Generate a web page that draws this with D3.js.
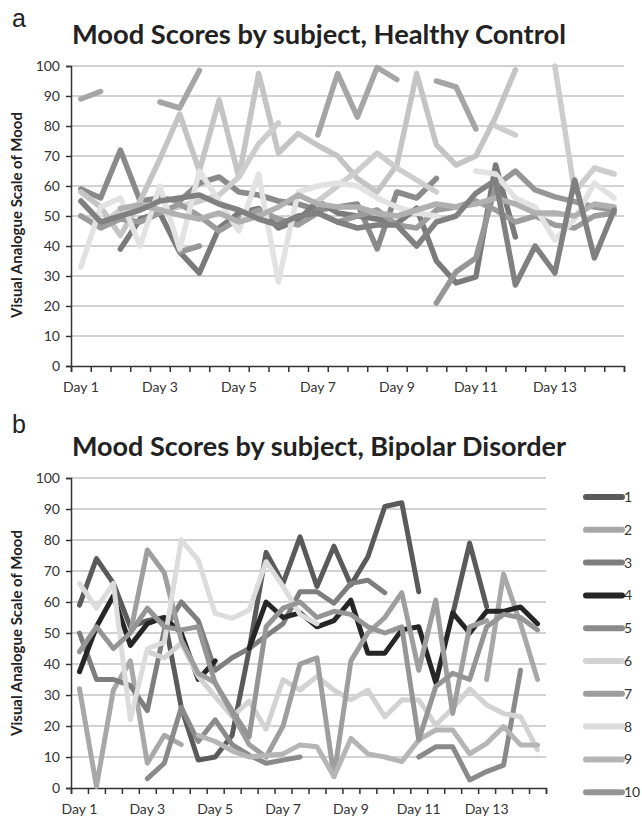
<!DOCTYPE html>
<html>
<head>
<meta charset="utf-8">
<script src="https://cdn.jsdelivr.net/npm/d3@7"></script>
<style>
  body { margin: 0; background: #fff; }
  svg { display: block; font-family: Lato, "Open Sans", sans-serif; }
</style>
</head>
<body>
<div id="root"></div>
<script>
// 28 sessions (two per day), labelled every other day
const sessions = d3.range(28);
const xTickLabels = ['Day 1', 'Day 3', 'Day 5', 'Day 7', 'Day 9', 'Day 11', 'Day 13'];
const yTicks = d3.range(0, 101, 10);
const subjects = ['1', '2', '3', '4', '5', '6', '7', '8', '9', '10'];
const subjectColors = ['#5a5a5a', '#a8a8a8', '#7e7e7e', '#262626', '#8a8a8a', '#d2d2d2', '#9e9e9e', '#dcdcdc', '#b5b5b5', '#959595'];

const _ = null;

// panel a - healthy control
const hc1 = [89, 91.5, _, _, 88, 86, 98.5, _, _, _, _, _, 77, 97.5, 83, 99.5, 95.5, _, 95, 93, 79, _, _, _, _, _, _, _];
const hc2 = [59, 56, 72, 55, 56, 55, 61, 63, 58, 57, 55, 54, 52, 53, 54, 39, 58, 56, 62.5, _, _, _, _, _, _, _, _, _];
const hc3 = [58, 53, 43.5, 55, 69, 84, 65, 88.7, 63, 97.5, 71, 77.5, 73.5, 70, 62.5, 58, 67, 97.5, 73.7, 67, 70, 83, 98.7, _, _, _, _, _];
const hc4 = [_, _, 39, 49, 51, 38, 31, 46, 51, 52.5, 46, 48.6, 55, 51, 50, 49, 47.5, 52.6, 35, 27.7, 29.7, 67, 43, _, _, _, _, _];
const hc5 = [_, _, _, _, _, 38, 40, _, _, _, _, _, _, _, _, _, _, _, 21, 31.4, 36, 60, 65, 58.7, 56.4, 54.8, 53, 52];
const hc6 = [50, 47, 52, 54, 52, 53, 55, 57, 63, 74, 81, _, 55, 60, 65, 71, 66, 62, 58, _, _, 80, 77, _, 100, 58, 66, 64];
const hc7 = [50, 46, 49, 48, 51, 54, 50, 45, 49, 52, 49, 47, 51, 48, 50, 52, 47, 46, 52, 53, 55, 52, 48, 50, 47, 46, 50, 51];
const hc8 = [33, 53, 56, 40, 60, 39, 65, 55, 45, 64, 28, 58, 60, 61, 60, 56, 53, 51, 50, _, 65, 64, 56, 53, 42, 49, 61, 56];
const hc9 = [_, _, 52.5, 53.7, 52, 50.3, 49, 51, 48, 50, 53, 57, 54, 53, 53, 51, 50, 52, 54, 53, 54, 56, 54, 51, 51, 50, 54, 53];
const hc10 = [55, 48, 50, 52, 55, 56, 57, 54, 52, 49, 47, 50, 51, 48, 46, 47, 47, 40, 48, 50, 57.6, 62, 27, 40, 31, 62, 36, 52];

// panel b - bipolar disorder
const bd1 = [59, 74, 66, 52, 54, 55, 26, 9, 10, 17, 44.5, 76, 66, 81, 65, 78, 65.5, 74.6, 90.8, 92, 63.3, _, 56, 79, 58.5, _, _, _];
const bd2 = [32, 0.5, 31.6, 41, 8, 17, 14, _, _, _, _, _, _, _, _, _, _, _, _, _, _, _, _, _, 35, 69, 53, 35];
const bd3 = [50, 35, 35, 33, 25, 51, 60, 54, 38, 42, 45, 49, 53, 63.3, 63.3, 59.6, 66, 67, 63, _, _, _, _, _, _, _, _, _];
const bd4 = [37.5, 52, 62, 46, 53, 55, 50, 35, 41, _, 45, 60, 55, 56.5, 52, 54, 60.6, 43.5, 43.5, 51, 52, 34, 56.5, 50, 57, 57, 58.4, 53];
const bd5 = [_, _, _, _, 3, 8, 26, 15, 22, 14, 10.6, 8, 9, 10, _, _, _, _, _, _, 10, 13.3, 13.3, 2.6, 5.3, 7.4, 38, _];
const bd6 = [_, _, _, _, 44, 42, 46.7, 36, 29.5, 23, 28, 19, 35, 31.6, 36, 31.6, 28.4, 31.6, 23, 28.4, 28.4, 20.3, 25.7, 32, 26.8, 24, 23, 12.3];
const bd7 = [_, _, _, 50, 76.8, 69.4, 47.7, 37, 34, 24, 14, 10, 20, 40, 42, 3.7, 41, 50, 55, 63, 38, 60.6, 24, 52, 54, _, _, _];
const bd8 = [66, 58, 66, 22, 45, 47, 80, 73.5, 56.3, 54.7, 57.4, 73, 65, 56, 53, _, _, _, _, _, _, _, _, _, _, _, _, _];
const bd9 = [_, _, _, _, _, _, _, 17, 15, 12, 10, 10.5, 11, 13.9, 13.3, 3.7, 16, 11, 10, 8.5, 15.5, 18.7, 18.7, 11, 14.4, 19.8, 13.9, 13.9];
const bd10 = [44, 52, 45, 50, 58, 52, 51, 52, 33.8, 25, 16.5, 52, 58, 60, 55, 57, 56, 52, 50, 52, 15.5, 32.7, 37, 35, 52, 56, 55, 51];

const healthy = [hc1, hc2, hc3, hc4, hc5, hc6, hc7, hc8, hc9, hc10];
const bipolar = [bd1, bd2, bd3, bd4, bd5, bd6, bd7, bd8, bd9, bd10];
const healthyColors = ['#a5a5a5', '#8a8a8a', '#c4c4c4', '#7a7a7a', '#969696', '#cdcdcd', '#9c9c9c', '#e2e2e2', '#b0b0b0', '#808080'];

const width = 642, height = 825;

const svg = d3.select('#root').append('svg')
  .attr('width', width)
  .attr('height', height)
  .attr('viewBox', [0, 0, width, height]);

// fit a text element to a target width by scaling its font size
function fitText(sel, targetWidth) {
  const node = sel.node();
  const size = parseFloat(sel.attr('font-size'));
  const w = node.getComputedTextLength();
  sel.attr('font-size', (size * targetWidth / w).toFixed(2));
}

function drawPanel(opts) {
  const { letter, letterY, title, titleY, top, bottom, left, right, series, colors, lineWidth, yTitleY } = opts;

  const x = d3.scaleBand().domain(sessions).range([left, right]);
  const xTicks = d3.scaleLinear().domain([0, sessions.length]).range([left, right]);
  const y = d3.scaleLinear().domain([0, 100]).range([bottom, top]);

  svg.append('text')
    .attr('x', 12).attr('y', letterY)
    .attr('font-size', 25)
    .attr('font-family', 'Liberation Sans, Arial, sans-serif')
    .attr('fill', '#222')
    .text(letter);

  const t = svg.append('text')
    .attr('x', 72).attr('y', titleY)
    .attr('font-size', 23)
    .attr('font-weight', 'bold')
    .attr('fill', '#222')
    .text(title);
  fitText(t, 494);

  // gridlines
  svg.append('g')
    .selectAll('line')
    .data(yTicks.filter(d => d > 0))
    .join('line')
    .attr('x1', left).attr('x2', right)
    .attr('y1', d => y(d)).attr('y2', d => y(d))
    .attr('stroke', '#a6a6a6')
    .attr('stroke-width', 1.2);

  // y axis
  const yAxis = svg.append('g')
    .attr('transform', `translate(${left},0)`)
    .call(d3.axisLeft(y).tickValues(yTicks).tickSize(5).tickPadding(6));
  yAxis.select('.domain').attr('stroke', '#333').attr('stroke-width', 1.5);
  yAxis.selectAll('.tick line').attr('stroke', '#333').attr('stroke-width', 1.5);
  yAxis.selectAll('.tick text')
    .attr('font-size', 14)
    .attr('font-family', 'Lato, sans-serif')
    .attr('fill', '#333');

  // x axis: tick marks on session boundaries, labels every fourth session
  const xAxis = svg.append('g')
    .attr('transform', `translate(0,${bottom})`)
    .call(d3.axisBottom(xTicks).tickValues(d3.range(sessions.length + 1)).tickSize(6).tickFormat(''));
  xAxis.select('.domain').attr('stroke', '#333').attr('stroke-width', 1.5);
  xAxis.selectAll('.tick line').attr('stroke', '#333').attr('stroke-width', 1.5);

  svg.append('g')
    .selectAll('text')
    .data(xTickLabels)
    .join('text')
    .attr('x', (d, i) => x(sessions[i * 4]) + x.bandwidth() / 2)
    .attr('y', bottom + 26)
    .attr('text-anchor', 'middle')
    .attr('font-size', 14)
    .attr('fill', '#333')
    .text(d => d);

  // y axis title
  const yt = svg.append('text')
    .attr('transform', `translate(22,${yTitleY}) rotate(-90)`)
    .attr('text-anchor', 'middle')
    .attr('font-size', 12)
    .attr('font-weight', 'bold')
    .attr('fill', '#222')
    .text('Visual Analogue Scale of Mood');
  fitText(yt, 206);

  const line = d3.line()
    .defined(d => d != null)
    .x((d, i) => x(sessions[i]) + x.bandwidth() / 2)
    .y(d => y(d));

  svg.append('g')
    .selectAll('path')
    .data(series)
    .join('path')
    .attr('d', line)
    .attr('fill', 'none')
    .attr('stroke', (d, i) => colors[i])
    .attr('stroke-width', lineWidth)
    .attr('stroke-linejoin', 'round')
    .attr('stroke-linecap', 'round');
}

drawPanel({
  letter: 'a', letterY: 27, title: 'Mood Scores by subject, Healthy Control', titleY: 44,
  top: 66, bottom: 366, left: 71, right: 624,
  series: healthy, colors: healthyColors, lineWidth: 5.5, yTitleY: 215
});

drawPanel({
  letter: 'b', letterY: 433, title: 'Mood Scores by subject, Bipolar Disorder', titleY: 456,
  top: 478, bottom: 788, left: 71, right: 546,
  series: bipolar, colors: subjectColors, lineWidth: 5, yTitleY: 633
});

// legend for panel b
const legend = svg.append('g')
  .selectAll('g')
  .data(subjects)
  .join('g')
  .attr('transform', (d, i) => `translate(586,${497 + i * 32.8})`);

legend.append('line')
  .attr('x1', 0).attr('x2', 36)
  .attr('stroke', (d, i) => subjectColors[i])
  .attr('stroke-width', 6)
  .attr('stroke-linecap', 'round');

legend.append('text')
  .attr('x', 38).attr('y', 5)
  .attr('font-size', 14)
  .attr('fill', '#333')
  .text(d => d);
</script>
</body>
</html>
